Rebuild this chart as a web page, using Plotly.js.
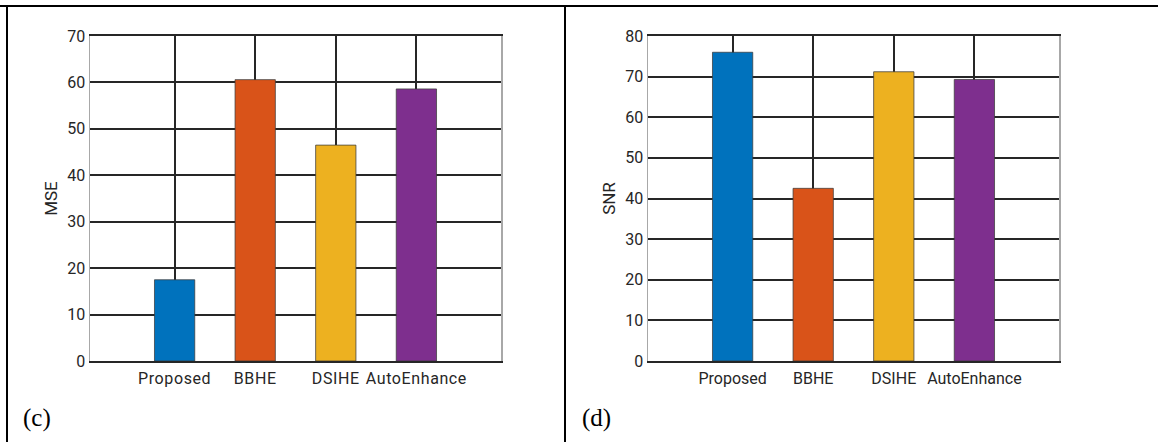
<!DOCTYPE html>
<html>
<head>
<meta charset="utf-8">
<script src="https://cdn.plot.ly/plotly-3.0.1.min.js"></script>
<style>
html,body{margin:0;padding:0;background:#fff;}
#chart{width:1158px;height:442px;}
#chart .xtick text{letter-spacing:0.6px;}
</style>
</head>
<body>
<div id="chart"></div>
<script>
const categories = ["Proposed", "BBHE", "DSIHE", "AutoEnhance"];
const positions = [1, 2, 3, 4];
const mseValues = [17.5, 60.6, 46.5, 58.6];
const snrValues = [76.0, 42.5, 71.2, 69.3];
const barColors = ["#0072BD", "#D95319", "#EDB120", "#7E2F8E"];
const mseTicks = [0, 10, 20, 30, 40, 50, 60, 70];
const snrTicks = [0, 10, 20, 30, 40, 50, 60, 70, 80];
const panelLabels = ["(c)", "(d)"];

const W = 1158, H = 442;
const px = v => v / W;
const py = v => 1 - v / H;

const tickFont = {family: "Roboto, 'Liberation Sans', sans-serif", size: 16, color: "#262626"};
const gridColor = "#262626";

function bar(vals, xa, ya) {
  return {
    type: "bar", x: positions, y: vals, xaxis: xa, yaxis: ya,
    width: 0.5,
    marker: {color: barColors, line: {color: "rgba(60,60,60,0.75)", width: 1}},
    hoverinfo: "x+y", showlegend: false
  };
}

function xAxis(domain) {
  return {
    domain: domain, range: [-0.05, 5.05], fixedrange: true,
    tickmode: "array", tickvals: positions, ticktext: categories,
    ticks: "", tickfont: tickFont, ticklabelstandoff: 2,
    showgrid: true, gridcolor: gridColor, gridwidth: 2,
    showline: true, mirror: true, linecolor: gridColor, linewidth: 2,
    zeroline: false
  };
}
function yAxis(domain, maxv, ticks, title, anchor) {
  return {
    domain: domain, range: [0, maxv], fixedrange: true, anchor: anchor,
    tickmode: "array", tickvals: ticks, ticks: "", tickfont: tickFont,
    showgrid: true, gridcolor: gridColor, gridwidth: 2,
    showline: true, mirror: true, linecolor: "#a8a8a8", linewidth: 1.5,
    zeroline: false,
    title: {text: title, standoff: 5, font: {family: "Roboto, sans-serif", size: 17, color: "#262626"}}
  };
}

const yDom = [py(361), py(36)];
const data = [bar(mseValues, "x", "y"), bar(snrValues, "x2", "y2")];

const layout = {
  width: W, height: H,
  margin: {l: 0, r: 0, t: 0, b: 0},
  paper_bgcolor: "#fff", plot_bgcolor: "#fff",
  xaxis: Object.assign(xAxis([px(90), px(501)]), {anchor: "y"}),
  yaxis: yAxis(yDom, 70, mseTicks, "MSE", "x"),
  xaxis2: Object.assign(xAxis([px(648), px(1059)]), {anchor: "y2"}),
  yaxis2: yAxis(yDom, 80, snrTicks, "SNR", "x2"),
  shapes: [
    {type: "line", xref: "paper", yref: "paper", x0: 0, x1: 1, y0: py(6), y1: py(6), line: {color: "#000", width: 2}},
    {type: "line", xref: "paper", yref: "paper", x0: px(7), x1: px(7), y0: py(6), y1: 0, line: {color: "#000", width: 2}},
    {type: "line", xref: "paper", yref: "paper", x0: px(565), x1: px(565), y0: py(6), y1: 0, line: {color: "#000", width: 2}}
  ],
  annotations: [
    {text: panelLabels[0], xref: "paper", yref: "paper", x: px(21), y: py(434), xanchor: "left", yanchor: "bottom", showarrow: false,
     font: {family: "'Liberation Serif', serif", size: 25, color: "#000"}},
    {text: panelLabels[1], xref: "paper", yref: "paper", x: px(580), y: py(434), xanchor: "left", yanchor: "bottom", showarrow: false,
     font: {family: "'Liberation Serif', serif", size: 25, color: "#000"}}
  ]
};

Plotly.newPlot("chart", data, layout, {displayModeBar: false, staticPlot: true});
</script>
</body>
</html>
